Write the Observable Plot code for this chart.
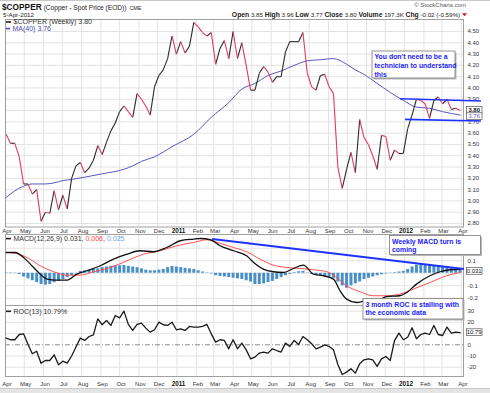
<!DOCTYPE html>
<html><head><meta charset="utf-8">
<script src="https://cdn.jsdelivr.net/npm/d3@7"></script>
<script src="https://cdn.jsdelivr.net/npm/@observablehq/plot@0.6"></script>
<style>
html,body{margin:0;padding:0;background:#fff;}
#wrap{position:relative;width:490px;height:393px;overflow:hidden;background:#fff;font-family:"Liberation Sans",Arial,sans-serif;}
</style></head><body><div id="wrap"></div>
<script>
// ================= DATA =================
const firstWeek = "2010-04-02";               // first weekly close
const closes = [3.59,3.51,3.51,3.39,3.15,3.15,3.06,3.10,2.82,2.90,
 2.89,3.09,2.92,3.05,2.93,3.20,3.31,3.34,3.25,3.29,
 3.36,3.49,3.41,3.52,3.62,3.69,3.79,3.84,3.79,3.74,
 3.95,3.90,3.84,3.76,4.01,4.11,4.16,4.26,4.46,4.30,
 4.41,4.31,4.37,4.58,4.54,4.49,4.46,4.49,4.21,4.35,
 4.42,4.26,4.50,4.26,4.40,4.20,3.98,3.98,4.13,4.19,
 4.14,4.05,4.10,4.10,4.32,4.41,4.41,4.41,4.49,4.13,
 4.01,3.98,4.11,4.12,4.01,3.95,3.30,3.11,3.28,3.43,
 3.25,3.72,3.56,3.50,3.40,3.28,3.58,3.57,3.36,3.45,
 3.42,3.42,3.64,3.76,3.90,3.89,3.86,3.73,3.89,3.92,
 3.86,3.90,3.81,3.82,3.80];
// MA(40) read at these week numbers
const maWeek = [0,2,4,6,9,11,13,15,18,22,27,29,31,34,38,43,47,51,54,57,60,63,66,69,72,75,78,80,82,85,88,91,94,97,100,104];
const maVal  = [3.03,3.09,3.13,3.15,3.15,3.16,3.18,3.19,3.21,3.24,3.28,3.31,3.35,3.39,3.48,3.59,3.74,3.87,3.99,4.04,4.11,4.15,4.20,4.24,4.25,4.26,4.21,4.16,4.12,4.04,3.96,3.89,3.83,3.82,3.79,3.76];
// MACD line
const macdWeek = [0,2,4.4,6.3,7.8,9.4,11.3,14,16.2,18.5,21.6,24.6,27.7,30.7,33.8,36.8,39.9,42.9,44.5,46.8,49,52.1,55.1,56.7,58.9,61.2,63.5,65.8,68.1,70.4,72.7,75,76.5,78,80.3,82.6,84.9,87.2,90.2,91.8,94,97.1,99.4,101.7,104];
const macdVal  = [0.166,0.166,0.113,0.046,-0.007,-0.047,-0.055,-0.055,-0.007,0.02,0.06,0.113,0.153,0.18,0.172,0.206,0.26,0.273,0.278,0.268,0.22,0.18,0.14,0.086,0.033,0.012,0.006,0.038,0.065,-0.007,-0.02,-0.047,-0.14,-0.207,-0.234,-0.22,-0.22,-0.186,-0.18,-0.154,-0.087,-0.02,0.012,0.028,0.031];
// Signal line
const sigWeek = [0,2,4.8,7.8,10.9,14,17,20,23.9,27.7,31.5,35.3,39.1,42.9,46,49,52.1,55.1,58.2,61.2,64.3,67.3,70.4,73.5,75.7,78,81.1,84.1,87.2,90.2,93.3,97.1,100.9,104];
const sigVal  = [0.166,0.16,0.126,0.06,0.012,-0.015,-0.015,0.012,0.046,0.1,0.153,0.18,0.22,0.246,0.268,0.24,0.206,0.172,0.113,0.065,0.046,0.038,0.028,0.012,-0.034,-0.1,-0.148,-0.18,-0.18,-0.167,-0.127,-0.074,-0.02,0.006];
// MACD histogram, weekly
const hist = [0.003,0.003,0.002,-0.01,-0.03,-0.045,-0.06,-0.075,-0.09,-0.095,
 -0.09,-0.075,-0.065,-0.05,-0.035,-0.02,-0.005,0.015,0.02,0.025,
 0.03,0.035,0.045,0.05,0.055,0.06,0.06,0.062,0.055,0.05,
 0.045,0.035,0.025,0.02,0.02,0.025,0.03,0.045,0.055,0.05,
 0.045,0.04,0.035,0.03,0.02,0.01,0.003,-0.005,-0.02,-0.025,
 -0.03,-0.035,-0.04,-0.045,-0.05,-0.06,-0.07,-0.09,-0.09,-0.085,
 -0.075,-0.065,-0.05,-0.035,-0.02,-0.008,0.005,0.012,0.015,0.003,
 -0.01,-0.015,-0.02,-0.025,-0.03,-0.04,-0.07,-0.1,-0.12,-0.1,
 -0.085,-0.07,-0.05,-0.04,-0.03,-0.02,-0.012,-0.005,0.002,0.005,
 0.01,0.015,0.03,0.05,0.065,0.07,0.07,0.065,0.062,0.06,
 0.055,0.05,0.045,0.04,0.03];
// ROC(13), weekly
const roc = [6.0,4.5,4.5,9.2,9.8,0.5,-8,-5.7,-16.4,-14,
 -14,-8.9,-17.9,-14.6,-16.4,-10,-2,6,3.9,7.4,
 8.9,23.2,17.9,21.7,17.3,26.2,24.1,30.1,18.2,12.8,
 18.2,19.3,14.9,11.3,13.4,20.2,17.9,17.3,20.2,13.4,
 14.3,12.8,16.4,15.8,15.8,16.4,18.2,9.8,2.4,4.5,
 3.9,-3.6,4.5,-3.6,1.5,-4.5,-12.5,-11,-7.4,-6.5,
 -7.4,-3.6,-5.1,-6.5,1.5,-1.5,3.9,0.3,7.4,4.5,
 0.9,-3.6,-2.1,0,-1.5,-4.5,-17.6,-26.5,-24.4,-21.4,
 -25.3,-17,-13.4,-12.5,-13.4,-19.3,-12.5,-10.4,-14,3.9,
 10.4,4.5,6.8,15.2,5.4,9.2,10.4,9.2,17.3,9.2,
 8.3,15.8,10.4,11.3,10.8];
// trendlines drawn on the chart (week number, value)
const channelTop    = [[90.2,3.905],[108.8,3.885]];
const channelBottom = [[91.4,3.722],[108.8,3.707]];
const macdTrend     = [[47.2,0.274],[104.9,0.034]];
// ticks
const monthLabels = ["Apr","May","Jun","Jul","Aug","Sep","Oct","Nov","Dec","2011","Feb","Mar","Apr","May","Jun","Jul","Aug","Sep","Oct","Nov","Dec","2012","Feb","Mar","Apr"];
const priceTicks = [2.8,2.9,3.0,3.1,3.2,3.3,3.4,3.5,3.6,3.7,3.8,3.9,4.0,4.1,4.2,4.3,4.4,4.5];
const macdGrid = [0.2,0.1,0,-0.1,-0.2];
const macdTickLabels = [0.1,-0.1,-0.2];
const rocGrid = [30,20,10,-10,-20];
const rocTickLabels = [30,20,0,-10,-20];
// last values
const lastClose = 3.80, lastMA = 3.76, lastMacd = 0.031, lastSignal = 0.006, lastHist = 0.025, lastRoc = 10.79;

// ================= BUILD =================
const DAY = 864e5;
const t0 = Date.parse(firstWeek);
const wk = i => new Date(t0 + i * 7 * DAY);
const xDomain = [new Date("2010-04-01T00:00Z"), new Date("2012-04-04T12:00Z")];
const months = monthLabels.map((lab, k) => ({date: new Date(Date.UTC(2010, 3 + k, 1)), lab, year: /^\d{4}$/.test(lab)}));
const monthDates = months.map(d => d.date);
const FONT = "Liberation Sans, Arial, sans-serif";
const W = 490, ML = 5, MR = 27;
const gridColor = "#e3e3e3", frameColor = "#a0a0a0", tickFill = "#333";

const priceRows = closes.map((c, i) => ({date: wk(i), v: c}));
const segs = d3.pairs(priceRows).map(([a, b]) => ({x1: a.date, y1: a.v, x2: b.date, y2: b.v, up: b.v >= a.v}));
const maRows = maWeek.map((w, i) => ({date: wk(w), v: maVal[i]}));
const macdRows = macdWeek.map((w, i) => ({date: wk(w), v: macdVal[i]}));
const sigRows = sigWeek.map((w, i) => ({date: wk(w), v: sigVal[i]}));
const histRows = hist.map((h, i) => ({date: wk(i), v: h}));
const rocRows = roc.map((r, i) => ({date: wk(i), v: r}));
const lineRow = pts => ({x1: wk(pts[0][0]), y1: pts[0][1], x2: wk(pts[1][0]), y2: pts[1][1]});
const linkOpts = {x1: "x1", y1: "y1", x2: "x2", y2: "y2"};

function monthText(dy) {
  return [
    Plot.text(months.filter(d => !d.year), {x: "date", text: "lab", frameAnchor: "bottom", dy, dx: 1.5, lineAnchor: "middle", fontSize: 6, fill: tickFill}),
    Plot.text(months.filter(d => d.year), {x: "date", text: "lab", frameAnchor: "bottom", dy, dx: 1.5, lineAnchor: "middle", fontSize: 6.3, fontWeight: "bold", fill: "#111"})
  ];
}
function rightTicks(vals, fmt) {
  return Plot.text(vals, {y: d => d, text: fmt, frameAnchor: "right", textAnchor: "start", dx: 4, fontSize: 6, fill: tickFill});
}
const baseStyle = top => ({position: "absolute", left: "0px", top: top + "px", fontFamily: FONT, overflow: "visible", background: "transparent"});

const pricePlot = Plot.plot({
  width: W, height: 236, marginLeft: ML, marginRight: MR, marginTop: 19, marginBottom: 9.5,
  style: baseStyle(0),
  x: {type: "utc", domain: xDomain, axis: null},
  y: {domain: [2.769, 4.606], axis: null},
  marks: [
    Plot.ruleX(monthDates, {stroke: gridColor}),
    Plot.ruleY(priceTicks, {stroke: gridColor}),
    Plot.frame({stroke: frameColor}),
    rightTicks(priceTicks, d => d.toFixed(2)),
    Plot.line(maRows, {x: "date", y: "v", stroke: "#5858c0", strokeWidth: 1, curve: "monotone-x"}),
    Plot.link(segs.filter(d => d.up), {...linkOpts, stroke: "#2b2b2b", strokeWidth: 1.1}),
    Plot.link(segs.filter(d => !d.up), {...linkOpts, stroke: "#e6395f", strokeWidth: 1.1}),
    Plot.link([lineRow(channelTop), lineRow(channelBottom)], {...linkOpts, stroke: "#1f33ff", strokeWidth: 1.6}),
    ...monthText(4)
  ]
});

const macdPlot = Plot.plot({
  width: W, height: 71, marginLeft: ML, marginRight: MR, marginTop: 0, marginBottom: 0,
  style: baseStyle(234),
  x: {type: "utc", domain: xDomain, axis: null},
  y: {domain: [-0.258, 0.310], axis: null},
  marks: [
    Plot.ruleX(monthDates, {stroke: gridColor}),
    Plot.ruleY(macdGrid, {stroke: gridColor}),
    Plot.frame({stroke: frameColor}),
    rightTicks(macdTickLabels, d => d.toFixed(1)),
    Plot.ruleX(histRows, {x: "date", y1: d => 0, y2: "v", stroke: "#4a90c8", strokeWidth: 3}),
    Plot.line(sigRows, {x: "date", y: "v", stroke: "#ff5050", strokeWidth: 1, curve: "monotone-x"}),
    Plot.line(macdRows, {x: "date", y: "v", stroke: "#111", strokeWidth: 1.3, curve: "monotone-x"}),
    Plot.link([lineRow(macdTrend)], {...linkOpts, stroke: "#1f33ff", strokeWidth: 1.8})
  ]
});

const rocPlot = Plot.plot({
  width: W, height: 88, marginLeft: ML, marginRight: MR, marginTop: 0, marginBottom: 17,
  style: baseStyle(305),
  x: {type: "utc", domain: xDomain, axis: null},
  y: {domain: [-28.3, 35.09], axis: null},
  marks: [
    Plot.ruleX(monthDates, {stroke: gridColor}),
    Plot.ruleY(rocGrid, {stroke: gridColor}),
    Plot.ruleY([0], {stroke: "#8a8a8a", strokeDasharray: "5,2,1,2"}),
    Plot.frame({stroke: frameColor}),
    rightTicks(rocTickLabels, d => String(d)),
    Plot.line(rocRows, {x: "date", y: "v", stroke: "#1a1a1a", strokeWidth: 1.3}),
    ...monthText(7.5)
  ]
});

const wrap = document.getElementById("wrap");
wrap.appendChild(pricePlot);
wrap.appendChild(macdPlot);
wrap.appendChild(rocPlot);

function sy(plot, v) { return plot.scale("y").apply(v); }

// ================= OVERLAY (header, legends, notes, value boxes) =================
const ov = d3.create("svg").attr("width", W).attr("height", 393)
  .style("position", "absolute").style("left", "0px").style("top", "0px")
  .style("font-family", FONT);
ov.append("rect").attr("x", 0).attr("y", 0).attr("width", W).attr("height", 1).attr("fill", "#c8c8c8");
ov.append("rect").attr("x", 0).attr("y", 388).attr("width", W).attr("height", 5).attr("fill", "#e4e4e4");
ov.append("rect").attr("x", 0).attr("y", 388).attr("width", W).attr("height", 0.8).attr("fill", "#c4c4c4");

function txt(x, y, s, size, opt = {}) {
  return ov.append("text").attr("x", x).attr("y", y).attr("font-size", size)
    .attr("fill", opt.fill || "#222").attr("font-weight", opt.bold ? "bold" : "normal")
    .attr("text-anchor", opt.anchor || "start").text(s);
}
// header: one text run so the pieces never collide
const title = ov.append("text").attr("x", 2).attr("y", 10).attr("fill", "#222");
title.append("tspan").attr("font-size", 8.3).attr("font-weight", "bold").attr("fill", "#111").text("$COPPER");
title.append("tspan").attr("font-size", 6.6).attr("dx", 2).text("(Copper - Spot Price (EOD))");
title.append("tspan").attr("font-size", 5.4).attr("dx", 3).text("CME");
txt(3, 16.8, "5-Apr-2012", 6.2);
txt(466, 7.3, "© StockCharts.com", 6, {anchor: "end", fill: "#555"});
const ohlc = ov.append("text").attr("x", 460).attr("y", 16.6).attr("text-anchor", "end").attr("font-size", 6.2).attr("fill", "#222");
[["Open", " 3.85 "], ["High", " 3.96 "], ["Low", " 3.77 "], ["Close", " 3.80 "], ["Volume", " 197.3K "], ["Chg", " -0.02 (-0.59%)"]].forEach(([k, v]) => {
  ohlc.append("tspan").attr("font-weight", "bold").attr("font-size", 6.8).text(k);
  ohlc.append("tspan").text(v);
});
ov.append("path").attr("d", "M462,13.3L467,13.3L464.5,16.3Z").attr("fill", "#e0102f");

// legends
function legend(y, color, parts, x0 = 6, len = 5) {
  ov.append("line").attr("x1", x0).attr("x2", x0 + len).attr("y1", y).attr("y2", y).attr("stroke", color).attr("stroke-width", 1.6);
  const t = ov.append("text").attr("x", x0 + len + 2.5).attr("y", y + 2.4).attr("font-size", 7);
  parts.forEach(([s, c]) => t.append("tspan").attr("fill", c).text(s));
}
legend(22, "#222", [["$COPPER (Weekly) " + lastClose.toFixed(2), "#333"]]);
legend(28.6, "#4a4ab8", [["MA(40) " + lastMA.toFixed(2), "#4a4ab8"]], 6, 4);
legend(238.6, "#222", [["MACD(12,26,9) " + lastMacd.toFixed(3), "#333"], [", ", "#333"], [lastSignal.toFixed(3), "#ff4040"], [", ", "#333"], [lastHist.toFixed(3), "#6ea5dc"]]);
legend(311.3, "#222", [["ROC(13) " + lastRoc.toFixed(2) + "%", "#333"]]);

// note boxes
function note(x, y, w, h, lines) {
  ov.append("rect").attr("x", x + 1.5).attr("y", y + 1.5).attr("width", w).attr("height", h).attr("fill", "#b9b9b9");
  ov.append("rect").attr("x", x).attr("y", y).attr("width", w).attr("height", h).attr("fill", "#fff").attr("stroke", "#7a7a7a").attr("stroke-width", 0.8);
  lines.forEach((s, i) => txt(x + 2.5, y + 8 + i * 8.8, s, 6.9, {bold: true, fill: "#1a1aff"}));
}
note(372, 51, 83, 27, ["You don't need to be a", "technician to understand", "this"]);
note(389.5, 235.5, 91, 19, ["Weekly MACD turn is", "coming"]);
note(363, 298.5, 100, 20.5, ["3 month ROC is stalling with", "the economic data"]);

// value boxes on the right axis
function valBox(y, s, color, bold) {
  ov.append("rect").attr("x", 466.5).attr("y", y - 3.4).attr("width", 15.5).attr("height", 6.8)
    .attr("fill", "#fff").attr("stroke", "#555").attr("stroke-width", 0.7);
  txt(474.2, y + 2.1, s, 5.9, {anchor: "middle", fill: color, bold});
}
valBox(sy(pricePlot, lastClose), lastClose.toFixed(2), "#111", true);
valBox(sy(pricePlot, lastMA) + 1.6, lastMA.toFixed(2), "#5b5bbd", false);
valBox(234 + sy(macdPlot, lastMacd) + 2, lastMacd.toFixed(3), "#111", false);
valBox(305 + sy(rocPlot, lastRoc), lastRoc.toFixed(2), "#111", false);

wrap.appendChild(ov.node());
</script></body></html>
